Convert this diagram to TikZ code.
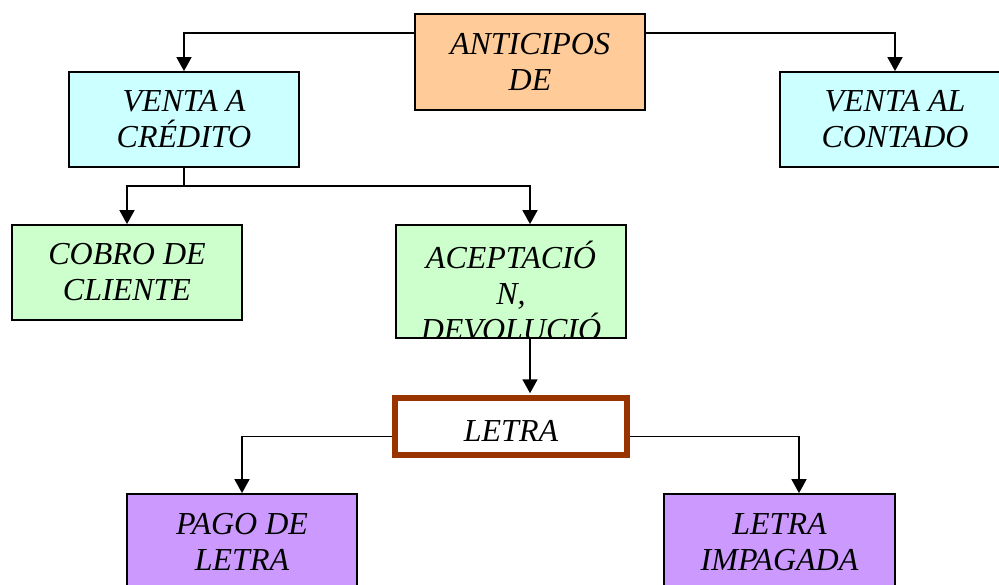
\documentclass[tikz,border=0pt]{standalone}
\usepackage{fontspec}
\setmainfont{Liberation Serif}
\usetikzlibrary{arrows.meta}
\usetikzlibrary{positioning}
\definecolor{antfill}{HTML}{FFCC99}
\definecolor{ventafill}{HTML}{CCFFFF}
\definecolor{cobrofill}{HTML}{CCFFCC}
\definecolor{pagofill}{HTML}{CC99FF}
\definecolor{letraline}{HTML}{993300}

\begin{document}
\begin{tikzpicture}[->,
                    >={Triangle[width=15pt,length=14pt]},
                    x=1pt, y=-1pt,
                    line width=1.8pt,
                    box/.style={rectangle,draw,line width=1.8pt,minimum width=230pt,minimum height=96pt,
                                inner sep=0pt,align=center,font=\fontsize{32}{36}\selectfont\itshape},
                    %boxtext/.style={align=center,font=\fontsize{32}{36}\selectfont\itshape}
                    ]
\useasboundingbox (0,0) rectangle (999,585);

% level 1
  \node[box,fill=antfill] (ant) at (530,62) {ANTICIPOS\\DE};
  \node[box,fill=ventafill,minimum height=95pt] (vac) at (184,119.5) {VENTA A\\CRÉDITO};
  \node[box,fill=ventafill,minimum height=95pt] (vco) at (895,119.5) {VENTA AL\\CONTADO};

\draw [->] ([yshift=-20pt]ant.north west) -| (vac.north);
\draw [->] ([yshift=-20pt]ant.north east) -| (vco.north);

% level 2
  \node[box,fill=cobrofill,minimum height=95pt] (cob) at (127,272.5) {COBRO DE\\CLIENTE};
  \node[box,fill=cobrofill,minimum height=113pt,
        path picture={\node[draw=none,fill=none,align=center,font=\fontsize{32}{36}\selectfont\itshape]
                       at ([yshift=-66pt]path picture bounding box.north) {ACEPTACIÓ\\N,\\DEVOLUCIÓ};}]
        (acp) at (511,281.5) {};

\draw [-] (vac.south) -- ++(0,18) coordinate (split);
\draw [->] (split) -| (cob.north);
\draw [->] (split) -| ([xshift=19pt]acp.north);

% level 3
  \node[box,draw=letraline,line width=5.5pt,minimum width=232pt,minimum height=57pt] (let) at (511,426.5)
        {\raisebox{-14.5pt}[0pt][0pt]{LETRA}};

\draw [->] ([xshift=19pt]acp.south) -- ([xshift=19pt,yshift=2pt]let.north);

% level 4
  \node[box,fill=pagofill] (pag) at (242,542) {PAGO DE\\LETRA};
  \node[box,fill=pagofill,minimum width=231pt] (imp) at (779.5,542) {LETRA\\IMPAGADA};

\draw [->] ([yshift=-10pt]let.west) -| (pag.north);
\draw [->] ([yshift=-10pt]let.east) -| ([xshift=19.5pt]imp.north);
\end{tikzpicture}
\end{document}
